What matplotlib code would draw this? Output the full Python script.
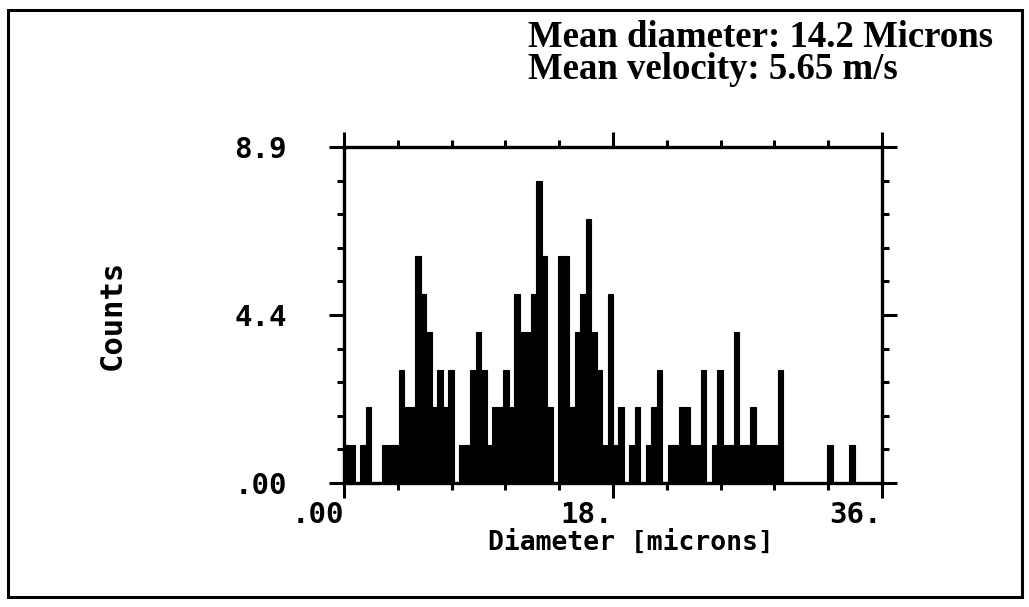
import numpy as np
import matplotlib.pyplot as plt
from matplotlib.patches import Rectangle
from matplotlib.ticker import MultipleLocator

# droplet size histogram (counts per diameter bin)
bin_width = 36 / 98
counts = [1, 1, 0, 1, 2, 0, 0, 1, 1, 1,
          3, 2, 2, 6, 5, 4, 2, 3, 2, 3,
          0, 1, 1, 3, 4, 3, 1, 2, 2, 3,
          2, 5, 4, 4, 5, 8, 6, 2, 0, 6,
          6, 2, 4, 5, 7, 4, 3, 1, 5, 1,
          2, 0, 1, 2, 0, 1, 2, 3, 0, 1,
          1, 2, 2, 1, 1, 3, 0, 1, 3, 1,
          1, 4, 1, 1, 2, 1, 1, 1, 1, 3,
          0, 0, 0, 0, 0, 0, 0, 0, 1, 0,
          0, 0, 1, 0, 0, 0, 0, 0]

x_ticks = [0, 18, 36]
x_tick_labels = ['.00', '18.', '36.']
y_ticks = [0, 4.45, 8.9]
y_tick_labels = ['.00', '4.4', '8.9']

mean_text = "Mean diameter: 14.2 Microns\nMean velocity: 5.65 m/s"

W, H = 1029, 607
fig = plt.figure(figsize=(W / 100, H / 100), dpi=100)
ax = fig.add_axes([344 / W, 1 - 483 / H, 538 / W, 336 / H])

left_edges = np.arange(len(counts)) * bin_width
ax.bar(left_edges, counts, width=bin_width, align='edge', color='black',
       edgecolor='black', linewidth=0.8)

ax.set_xlim(0, 36)
ax.set_ylim(0, 8.9)

mono = dict(family='DejaVu Sans Mono', weight='bold')

ax.set_xticks(x_ticks)
ax.set_xticklabels(x_tick_labels, fontsize=21, ha='right', **mono)
ax.xaxis.set_minor_locator(MultipleLocator(3.6))
ax.set_yticks(y_ticks)
ax.set_yticklabels(y_tick_labels, fontsize=21, **mono)
ax.yaxis.set_minor_locator(MultipleLocator(0.89))

ax.tick_params(which='both', direction='out', width=2.2, color='black',
               top=True, right=True, labeltop=False, labelright=False)
ax.tick_params(which='major', length=11)
ax.tick_params(which='minor', length=5)
ax.tick_params(axis='y', which='major', pad=30)
ax.tick_params(axis='x', which='major', pad=2)

for s in ax.spines.values():
    s.set_linewidth(2.4)

fig.text(112 / W, 1 - 315 / H, 'Counts', rotation=90, ha='center', va='center',
         fontsize=22, **mono)
fig.text(631 / W, 1 - 543 / H, 'Diameter [microns]', ha='center', va='center',
         fontsize=19, **mono)

fig.text(528 / W, 1 - 20 / H, mean_text, ha='left', va='top',
         family='Liberation Serif', weight='bold', fontsize=26.5, linespacing=0.9)

# outer frame around the whole figure
fig.add_artist(Rectangle((8 / W, 1 - 597 / H), 1014 / W, 587 / H,
                         transform=fig.transFigure, fill=False, lw=2.2,
                         edgecolor='black'))

fig.savefig('out.png', dpi=100)
